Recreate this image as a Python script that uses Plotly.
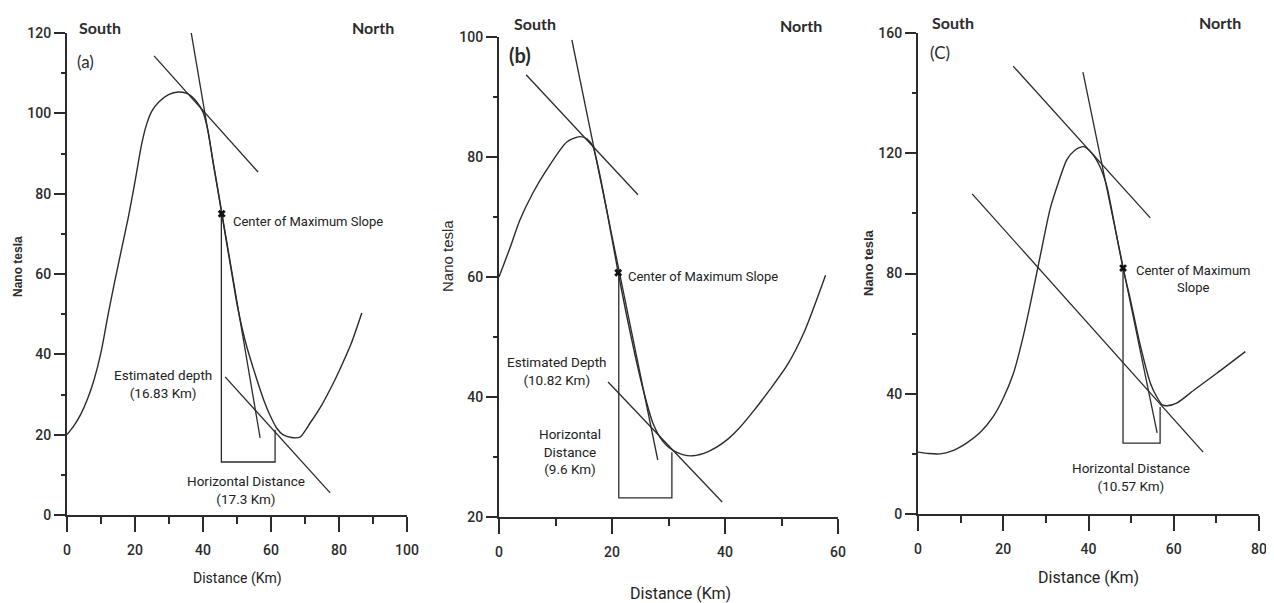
import plotly.graph_objects as go

# ---------------- Panel (a) ----------------
a_dist = [0, 2, 4, 6, 8, 10, 12, 14, 16, 18, 20, 22, 23.5, 25, 27, 30, 32.7, 35.5, 38, 40,
          41.5, 43, 44.3, 45.5, 47, 48.5, 50, 51.5, 53, 54.8, 56.5, 58, 59.5, 61.7,
          63.5, 66, 68.5, 71.5, 75, 78.3, 80, 83.5, 86.7]
a_field = [20, 22.2, 25, 28.8, 33.8, 40.5, 49.5, 58, 66, 74, 83, 92.5, 97.5, 100.6, 102.8, 104.7, 105.3, 104.9, 103, 100.3,
           95.5, 87.5, 81.2, 75, 67.5, 60, 52.5, 46.5, 41.5, 36.5, 32, 28.3, 25.2, 21.6,
           20, 19.3, 19.4, 22.9, 27.5, 32.8, 35.8, 42.5, 50.3]
a_steep_x = [35.6, 56.8]
a_steep_y = [124.7, 19.2]
a_upper_x = [25.6, 56.2]
a_upper_y = [114.3, 85.4]
a_lower_x = [46.5, 77.4]
a_lower_y = [34.4, 5.5]
a_rect_x = [45.4, 45.4, 61.2, 61.2]
a_rect_y = [75, 13.2, 13.2, 21.2]
a_center = [45.5, 75]

# ---------------- Panel (b) ----------------
b_dist = [0, 2, 3.7, 6, 8.4, 12, 14.3, 15.6, 16.6, 17.5, 19, 21.1, 22.5, 24, 25.5, 27.3, 29, 30.8,
          32.5, 34.3, 37, 40, 42.5, 45, 48, 51, 54, 57.8]
b_field = [60, 65, 69.5, 74, 77.8, 82.5, 83.4, 83, 81.8, 78.5, 71.5, 60.7, 54, 47.3, 41.3, 35.5, 32.6, 31.1,
           30.4, 30.2, 30.9, 32.6, 34.8, 37.6, 41.3, 45.3, 50.8, 60.3]
b_steep_x = [12.9, 28.1]
b_steep_y = [99.5, 29.5]
b_upper_x = [4.8, 24.6]
b_upper_y = [93.7, 73.7]
b_lower_x = [19.3, 39.5]
b_lower_y = [42.5, 22.5]
b_rect_x = [21.2, 21.2, 30.6, 30.6]
b_rect_y = [60.7, 23.2, 23.2, 30.8]
b_center = [21.1, 60.7]

# ---------------- Panel (c) ----------------
c_dist = [0, 2.5, 5.2, 8, 11.4, 14.5, 17.6, 20, 22.4, 24.5, 26.3, 28.7, 31, 33, 34.9, 36.8,
          38.8, 40.8, 42.7, 44.3, 45.8, 48.1, 49.8, 52, 54.5, 56, 57.3, 58.4, 60.8, 65, 70.1, 76.8]
c_field = [20.6, 20.1, 20, 21, 23.6, 27, 32.3, 38.5, 46.8, 58, 69.5, 86, 101.5, 110.5, 117.8, 121,
           122.2, 120, 115.5, 109, 98.5, 81.8, 71.5, 57, 43.6, 39, 36.3, 36, 37, 41.5, 46.8, 54]
c_steep_x = [38.7, 56.1]
c_steep_y = [147, 27]
c_upper_x = [22.3, 54.5]
c_upper_y = [149, 98.5]
c_lower_x = [12.7, 66.9]
c_lower_y = [106.5, 20.6]
c_rect_x = [48.1, 48.1, 56.8, 56.8]
c_rect_y = [81.8, 23.6, 23.6, 35.6]
c_center = [48.1, 81.8]

INK = "#2b2b2b"
NARROW = "Roboto, Liberation Sans, sans-serif"
BOLDSANS = "Lato, Open Sans, sans-serif"

fig = go.Figure()

panels = [
    ("x", "y", a_dist, a_field, a_steep_x, a_steep_y, a_upper_x, a_upper_y, a_lower_x, a_lower_y,
     a_rect_x, a_rect_y, a_center),
    ("x2", "y2", b_dist, b_field, b_steep_x, b_steep_y, b_upper_x, b_upper_y, b_lower_x, b_lower_y,
     b_rect_x, b_rect_y, b_center),
    ("x3", "y3", c_dist, c_field, c_steep_x, c_steep_y, c_upper_x, c_upper_y, c_lower_x, c_lower_y,
     c_rect_x, c_rect_y, c_center),
]

for (xa, ya, dx, fy, sx, sy, ux, uy, lx, ly, rx, ry, cen) in panels:
    fig.add_trace(go.Scatter(x=dx, y=fy, mode="lines", xaxis=xa, yaxis=ya,
                             line=dict(color=INK, width=1.4, shape="spline", smoothing=0.7),
                             hoverinfo="skip", cliponaxis=False))
    for (lxs, lys) in [(sx, sy), (ux, uy), (lx, ly), (rx, ry)]:
        fig.add_trace(go.Scatter(x=lxs, y=lys, mode="lines", xaxis=xa, yaxis=ya,
                                 line=dict(color=INK, width=1.3), hoverinfo="skip",
                                 cliponaxis=False))
    fig.add_trace(go.Scatter(x=[cen[0]], y=[cen[1]], mode="markers", xaxis=xa, yaxis=ya,
                             marker=dict(symbol="x", size=7, color="#111111"),
                             hoverinfo="skip", cliponaxis=False))

def xax(domain, rng, dtick, minor_dtick, anchor):
    return dict(domain=domain, range=rng, showline=True, linecolor=INK, linewidth=2,
                ticks="outside", ticklen=15, tickwidth=2, tickcolor=INK, dtick=dtick, tick0=0,
                showgrid=False, zeroline=False, fixedrange=True, automargin=False, anchor=anchor,
                ticklabelstandoff=6,
                minor=dict(ticks="outside", ticklen=7, tickwidth=2, tickcolor=INK,
                           dtick=minor_dtick, tick0=0, showgrid=False),
                tickfont=dict(family=NARROW, size=14, color=INK, weight=500))

def yax(domain, rng, dtick, minor_dtick, anchor):
    return dict(domain=domain, range=rng, showline=True, linecolor=INK, linewidth=2,
                ticks="outside", ticklen=11, tickwidth=2, tickcolor=INK, dtick=dtick,
                tick0=0, anchor=anchor, automargin=False,
                showgrid=False, zeroline=False, fixedrange=True,
                minor=dict(ticks="outside", ticklen=4, tickwidth=2, tickcolor=INK,
                           dtick=minor_dtick, tick0=0, showgrid=False),
                tickfont=dict(family=NARROW, size=14, color=INK, weight=500))

# page body has an 8px margin: figure is placed at (8, 8) in the window
OFF = 8
W, H = 1274 - OFF, 603 - OFF

def px(xp):
    return (xp - OFF) / W

def py(yp):
    return (H - (yp - OFF)) / H

def dx_(p0, p1):
    return [px(p0), px(p1)]

def dy_(ptop, pbot):
    return [py(pbot), py(ptop)]

fig.update_layout(
    width=W, height=H, margin=dict(l=0, r=0, t=0, b=0, autoexpand=False),
    paper_bgcolor="white", plot_bgcolor="white", showlegend=False,
    xaxis=xax(dx_(67, 407), [0, 100], 20, 10, "y"),
    yaxis=yax(dy_(33, 515), [0, 120], 20, 10, "x"),
    xaxis2=xax(dx_(499, 838), [0, 60], 20, 10, "y2"),
    yaxis2=yax(dy_(37, 517), [20, 100], 20, 10, "x2"),
    xaxis3=xax(dx_(918, 1259), [0, 80], 20, 10, "y3"),
    yaxis3=yax(dy_(33, 514), [0, 160], 40, 20, "x3"),
)

ann = []
def txt(text, x, y, xref, yref, font, xanchor="center", yanchor="middle", angle=0, align="center"):
    ann.append(dict(text=text, x=x, y=y, xref=xref, yref=yref, showarrow=False,
                    xanchor=xanchor, yanchor=yanchor, textangle=angle, align=align, font=font))

f_dir = dict(family=BOLDSANS, size=16, color=INK, weight="bold")
f_lab = dict(family=BOLDSANS, size=17, color=INK)
f_note = dict(family=NARROW, size=13.5, color="#222222")
f_center = dict(family=NARROW, size=13, color="#222222")
f_xt = dict(family=NARROW, size=16, color="#222222")

# Panel (a)
txt("South", px(77), py(27), "paper", "paper", f_dir, xanchor="left")
txt("North", px(350), py(27), "paper", "paper", f_dir, xanchor="left")
txt("(a)", 2.4, 112.8, "x", "y", f_lab, xanchor="left")
txt("Center of Maximum Slope", 48.3, 73, "x", "y", f_center, xanchor="left")
txt("Estimated depth<br>(16.83 Km)", 28.3, 32.6, "x", "y", f_note)
txt("Horizontal Distance<br>(17.3 Km)", 52.6, 6.2, "x", "y", f_note)
txt("Distance (Km)", px(237), py(578), "paper", "paper", dict(family=NARROW, size=14, color="#222222"))
txt("Nano tesla", px(18), py(267), "paper", "paper",
    dict(family="Liberation Sans, Arial, sans-serif", size=12, color=INK, weight="bold"), angle=-90)

# Panel (b)
txt("South", px(512), py(23), "paper", "paper", f_dir, xanchor="left")
txt("North", px(778), py(25), "paper", "paper", f_dir, xanchor="left")
txt("(b)", 1.4, 97, "x2", "y2", dict(family=BOLDSANS, size=20, color=INK, weight="bold"), xanchor="left")
txt("Center of Maximum Slope", 22.5, 60.1, "x2", "y2", f_center, xanchor="left")
txt("Estimated Depth<br>(10.82 Km)", 10.3, 44.3, "x2", "y2", f_note)
txt("Horizontal<br>Distance<br>(9.6 Km)", 12.6, 31, "x2", "y2", f_note)
txt("Distance (Km)", px(680), py(593), "paper", "paper", f_xt)
txt("Nano tesla", px(448), py(256), "paper", "paper",
    dict(family="Liberation Sans, Arial, sans-serif", size=15, color=INK), angle=-90)

# Panel (c)
txt("South", px(930), py(22), "paper", "paper", f_dir, xanchor="left")
txt("North", px(1197), py(22), "paper", "paper", f_dir, xanchor="left")
txt("(C)", 2.3, 153.4, "x3", "y3", f_lab, xanchor="left")
txt("Center of Maximum<br>Slope", 64.5, 78.2, "x3", "y3", f_center)
txt("Horizontal Distance<br>(10.57 Km)", 50, 12.3, "x3", "y3", f_note)
txt("Distance (Km)", px(1088), py(577), "paper", "paper", f_xt)
txt("Nano tesla", px(868), py(262), "paper", "paper",
    dict(family="Liberation Sans, Arial, sans-serif", size=13, color=INK, weight="bold"), angle=-90)

fig.update_layout(annotations=ann)
fig.write_html("out.html")
